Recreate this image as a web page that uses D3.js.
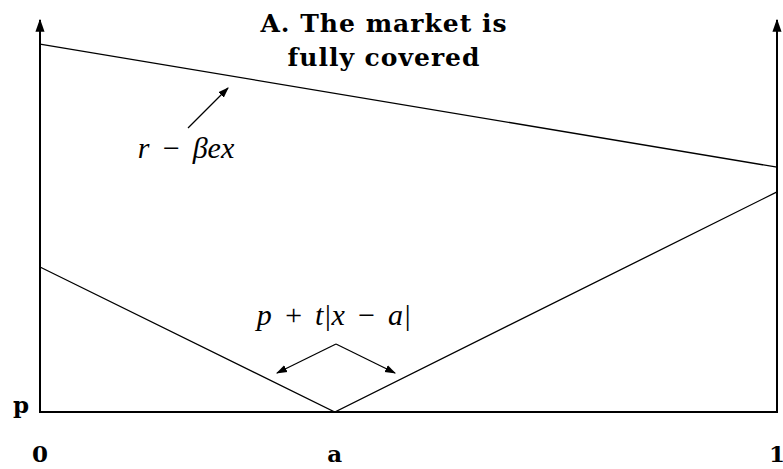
<!DOCTYPE html>
<html>
<head>
<meta charset="utf-8">
<script src="https://cdn.jsdelivr.net/npm/d3@7"></script>
<style>
  body { margin: 0; background: #fff; }
  text { fill: #000; }
</style>
</head>
<body>
<div id="chart"></div>
<script>
var aPos = 0.4;
var reservation = [[0, 0.936], [1, 0.623]];        // r - beta*e*x
var delivered = [[0, 0.369], [aPos, 0], [1, 0.56]]; // p + t|x-a|
var xTicks = [{v: 0, label: "0"}, {v: aPos, label: "a"}, {v: 1, label: "1"}];
var titleLines = ["A. The market is", "fully covered"];

var width = 783, height = 469;
var margin = {top: 19, right: 6, bottom: 57, left: 40};

var svg = d3.select("#chart").append("svg")
    .attr("width", width)
    .attr("height", height);

var x = d3.scaleLinear().domain([0, 1]).range([margin.left, width - margin.right]);
var y = d3.scaleLinear().domain([0, 1]).range([height - margin.bottom, margin.top]);

var defs = svg.append("defs");
function addMarker(id, size) {
  defs.append("marker")
      .attr("id", id)
      .attr("viewBox", "0 0 10 10")
      .attr("refX", 9).attr("refY", 5)
      .attr("markerWidth", size).attr("markerHeight", size)
      .attr("markerUnits", "userSpaceOnUse")
      .attr("orient", "auto")
      .append("path")
      .attr("d", "M0,1.5 L10,5 L0,8.5 Z")
      .attr("fill", "#000");
}
addMarker("arrow", 11);
addMarker("axisArrow", 13);

// axes: bottom line and two verticals with arrows
svg.append("line")
    .attr("x1", x(0) - 1).attr("x2", x(1) + 1)
    .attr("y1", y(0)).attr("y2", y(0))
    .attr("stroke", "#000").attr("stroke-width", 2);

[0, 1].forEach(function(v) {
  svg.append("line")
      .attr("x1", x(v)).attr("x2", x(v))
      .attr("y1", y(0) + 1).attr("y2", y(1) + 1)
      .attr("stroke", "#000").attr("stroke-width", 2)
      .attr("marker-end", "url(#axisArrow)");
});

var line = d3.line()
    .x(function(d) { return x(d[0]); })
    .y(function(d) { return y(d[1]); });

svg.append("path")
    .datum(reservation)
    .attr("d", line)
    .attr("fill", "none")
    .attr("stroke", "#000")
    .attr("stroke-width", 1.3);

svg.append("path")
    .datum(delivered)
    .attr("d", line)
    .attr("fill", "none")
    .attr("stroke", "#000")
    .attr("stroke-width", 1.3);

// tick labels
svg.selectAll(".tick-label")
    .data(xTicks)
    .enter()
    .append("text")
    .attr("class", "tick-label")
    .attr("x", function(d) { return x(d.v); })
    .attr("y", 462)
    .attr("text-anchor", "middle")
    .attr("font-family", "DejaVu Serif")
    .attr("font-weight", "bold")
    .attr("font-size", 23)
    .text(function(d) { return d.label; });

svg.append("text")
    .attr("x", 21)
    .attr("y", y(0) + 1)
    .attr("text-anchor", "middle")
    .attr("font-family", "DejaVu Serif")
    .attr("font-weight", "bold")
    .attr("font-size", 23)
    .text("p");

// title
svg.selectAll(".title")
    .data(titleLines)
    .enter()
    .append("text")
    .attr("class", "title")
    .attr("x", 384)
    .attr("y", function(d, i) { return 32 + i * 34; })
    .attr("text-anchor", "middle")
    .attr("font-family", "DejaVu Serif")
    .attr("font-weight", "bold")
    .attr("font-size", 25)
    .attr("letter-spacing", 1)
    .text(function(d) { return d; });

// annotation: r - beta e x
svg.append("line")
    .attr("x1", 188).attr("y1", 128)
    .attr("x2", 228).attr("y2", 88)
    .attr("stroke", "#000").attr("stroke-width", 1.3)
    .attr("marker-end", "url(#arrow)");

svg.append("text")
    .attr("x", 186)
    .attr("y", 158)
    .attr("text-anchor", "middle")
    .attr("font-family", "Liberation Serif")
    .attr("font-style", "italic")
    .attr("font-size", 30)
    .attr("word-spacing", 4)
    .text("r \u2212 \u03B2ex");

// annotation: p + t|x - a|
var apex = [336, 344];
[[277, 373], [395, 373]].forEach(function(tip) {
  svg.append("line")
      .attr("x1", apex[0]).attr("y1", apex[1])
      .attr("x2", tip[0]).attr("y2", tip[1])
      .attr("stroke", "#000").attr("stroke-width", 1.3)
      .attr("marker-end", "url(#arrow)");
});

svg.append("text")
    .attr("x", 334)
    .attr("y", 325)
    .attr("text-anchor", "middle")
    .attr("font-family", "Liberation Serif")
    .attr("font-style", "italic")
    .attr("font-size", 30)
    .attr("word-spacing", 4)
    .text("p + t|x \u2212 a|");
</script>
</body>
</html>
